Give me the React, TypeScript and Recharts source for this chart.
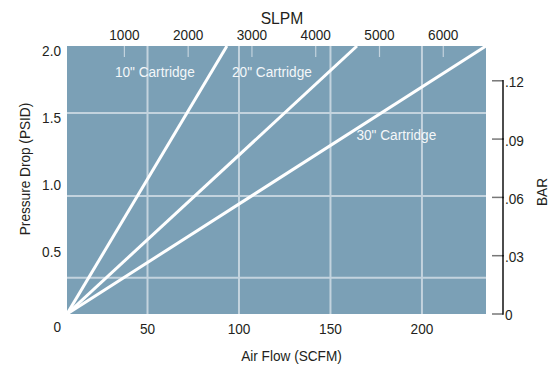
import React from 'react';
import { LineChart, Line, XAxis, YAxis, CartesianGrid, ReferenceDot, Label } from 'recharts';

// ---- data ----
const scfmTicks = [50, 100, 150, 200];
const slpmTicks = [1000, 2000, 3000, 4000, 5000, 6000];
const psiTicks = [0, 0.5, 1.0, 1.5, 2.0];
const barTicks = [0, 0.03, 0.06, 0.09, 0.12];
const gridFlow = [50, 100, 150, 200];
const gridPsi = [0.27, 0.88, 1.5];

const cartridge10 = [{ flow: 6, psi: 0 }, { flow: 93.4, psi: 2.0 }];
const cartridge20 = [{ flow: 6, psi: 0 }, { flow: 164.5, psi: 2.0 }];
const cartridge30 = [{ flow: 6, psi: 0 }, { flow: 235, psi: 2.0 }];

const seriesLabels = [
  { text: '10" Cartridge', flow: 54, psi: 1.81 },
  { text: '20" Cartridge', flow: 118, psi: 1.81 },
  { text: '30" Cartridge', flow: 186, psi: 1.34 },
];

const flowDomain = [6, 235];
const slpmDomain = [100, 6670];
const psiDomain = [0, 2];
const PSI_TO_BAR = 0.0689476;
const SCFM_TO_SLPM = 28.317;
const barDomain = [0, 2 * PSI_TO_BAR];
const slpmRef = cartridge30.map((d) => ({ slpm: d.flow * SCFM_TO_SLPM, psi: d.psi }));

// ---- layout ----
const W = 560;
const H = 367;
const LEFT_W = 67;
const RIGHT_W = 74;
const TOP_H = 46;
const BOTTOM_H = 53;
const PLOT_RIGHT = W - RIGHT_W;
const PLOT_BOTTOM = H - BOTTOM_H;
const PLOT_H = PLOT_BOTTOM - TOP_H;

const BG = '#7ba0b6';
const GRID = '#c3d3de';
const TEXT = '#231f20';
const FONT = '"Liberation Sans", Arial, sans-serif';
const FS = 15.5;
const SX = 0.88;

// condensed text helper
const CText = ({ x, y, anchor = 'middle', fill = TEXT, size = FS, sx = SX, rotate = 0, children }: any) => (
  <g transform={`translate(${x} ${y}) rotate(${rotate}) scale(${sx} 1)`}>
    <text x={0} y={0} dy="0.35em" textAnchor={anchor} fill={fill} fontSize={size}>
      {children}
    </text>
  </g>
);

const PsiTick = (props: any) => {
  const { y, payload } = props;
  const v = payload.value;
  return (
    <CText x={LEFT_W - 6} y={y + (v === 0 ? 13 : 5)} anchor="end">
      {v === 0 ? '0' : v.toFixed(1)}
    </CText>
  );
};

const FlowTick = (props: any) => {
  const { x, payload } = props;
  return (
    <CText x={x} y={PLOT_BOTTOM + 15}>
      {payload.value}
    </CText>
  );
};

const SlpmTick = (props: any) => {
  const { x, payload } = props;
  return (
    <g>
      <line x1={x} x2={x} y1={TOP_H} y2={TOP_H + 11} stroke={GRID} strokeWidth={1.2} />
      <CText x={x} y={35}>
        {payload.value}
      </CText>
    </g>
  );
};

const BarTick = (props: any) => {
  const { y, payload } = props;
  const v = payload.value;
  const step = (0.03 / barDomain[1]) * PLOT_H;
  const label = v === 0 ? '0' : v.toFixed(2).replace(/^0/, '');
  return (
    <g>
      <line x1={PLOT_RIGHT + 6} x2={PLOT_RIGHT + 17} y1={y} y2={y} stroke="#777" strokeWidth={1.5} />
      {v > 0 && <line x1={PLOT_RIGHT + 17} x2={PLOT_RIGHT + 17} y1={y - 0.75} y2={y + step + 0.75} stroke="#111" strokeWidth={1.5} />}
      <CText x={PLOT_RIGHT + 19} y={y + 1} anchor="start">
        {label}
      </CText>
    </g>
  );
};

const SeriesLabel = (text: string) => (props: any) => {
  const vb = props.viewBox || {};
  const cx = (vb.x ?? 0) + (vb.width ?? 0) / 2;
  const cy = (vb.y ?? 0) + (vb.height ?? 0) / 2;
  return (
    <CText x={cx} y={cy} fill="#f4f7f9">
      {text}
    </CText>
  );
};

export default function App() {
  return (
    <div style={{ position: 'absolute', left: 0, top: 0, width: W, height: H, background: '#fff', fontFamily: FONT }}>
      <LineChart width={W} height={H} margin={{ top: 0, right: 0, bottom: 0, left: 0 }}>
        <CartesianGrid
          xAxisId="scfm"
          yAxisId="psi"
          fill={BG}
          fillOpacity={1}
          stroke={GRID}
          strokeWidth={2}
          verticalValues={gridFlow}
          horizontalValues={gridPsi}
        />
        <XAxis
          xAxisId="scfm"
          type="number"
          dataKey="flow"
          domain={flowDomain}
          ticks={scfmTicks}
          orientation="bottom"
          height={BOTTOM_H}
          axisLine={false}
          tickLine={false}
          tick={<FlowTick />}
          allowDataOverflow
        >
          <Label content={() => <CText x={291.5} y={356}>Air Flow (SCFM)</CText>} />
        </XAxis>
        <XAxis
          xAxisId="slpm"
          type="number"
          dataKey="slpm"
          domain={slpmDomain}
          ticks={slpmTicks}
          orientation="top"
          height={TOP_H}
          axisLine={false}
          tickLine={false}
          tick={<SlpmTick />}
          allowDataOverflow
        >
          <Label content={() => <CText x={282} y={18} size={16.5} sx={0.95}>SLPM</CText>} />
        </XAxis>
        <YAxis
          yAxisId="psi"
          type="number"
          domain={psiDomain}
          ticks={psiTicks}
          orientation="left"
          width={LEFT_W}
          axisLine={false}
          tickLine={false}
          tick={<PsiTick />}
          allowDataOverflow
        >
          <Label content={() => <CText x={25} y={169} rotate={-90}>Pressure Drop (PSID)</CText>} />
        </YAxis>
        <YAxis
          yAxisId="bar"
          type="number"
          domain={barDomain}
          ticks={barTicks}
          orientation="right"
          width={RIGHT_W}
          axisLine={false}
          tickLine={false}
          tick={<BarTick />}
          allowDataOverflow
        >
          <Label content={() => <CText x={541.5} y={192} rotate={-90}>BAR</CText>} />
        </YAxis>
        <Line xAxisId="slpm" yAxisId="psi" data={slpmRef} dataKey="psi" stroke="none" strokeWidth={0} dot={false} activeDot={false} legendType="none" isAnimationActive={false} />
        <Line xAxisId="scfm" yAxisId="psi" data={cartridge10} dataKey="psi" stroke="#fff" strokeWidth={3} dot={false} isAnimationActive={false} />
        <Line xAxisId="scfm" yAxisId="psi" data={cartridge20} dataKey="psi" stroke="#fff" strokeWidth={3} dot={false} isAnimationActive={false} />
        <Line xAxisId="scfm" yAxisId="psi" data={cartridge30} dataKey="psi" stroke="#fff" strokeWidth={3} dot={false} isAnimationActive={false} />
        {seriesLabels.map((s) => (
          <ReferenceDot
            key={s.text}
            xAxisId="scfm"
            yAxisId="psi"
            x={s.flow}
            y={s.psi}
            r={0}
            fill="none"
            stroke="none"
            label={SeriesLabel(s.text)}
          />
        ))}
      </LineChart>
    </div>
  );
}
